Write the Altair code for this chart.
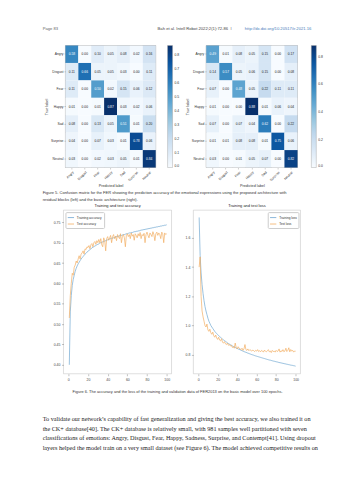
import altair as alt
import pandas as pd

# ---------------- data ----------------
labels = ["Angry", "Disgust", "Fear", "Happy", "Sad", "Surprise", "Neutral"]

cm_left = [
    [0.58, 0.00, 0.10, 0.05, 0.08, 0.02, 0.16],
    [0.11, 0.66, 0.05, 0.05, 0.03, 0.00, 0.11],
    [0.11, 0.00, 0.50, 0.02, 0.15, 0.06, 0.12],
    [0.01, 0.00, 0.01, 0.87, 0.03, 0.02, 0.06],
    [0.08, 0.00, 0.13, 0.05, 0.51, 0.01, 0.20],
    [0.04, 0.00, 0.07, 0.03, 0.01, 0.78, 0.06],
    [0.03, 0.00, 0.02, 0.03, 0.05, 0.01, 0.84],
]
cm_right = [
    [0.49, 0.01, 0.08, 0.05, 0.15, 0.00, 0.17],
    [0.14, 0.57, 0.05, 0.06, 0.15, 0.00, 0.08],
    [0.07, 0.00, 0.48, 0.05, 0.22, 0.11, 0.11],
    [0.01, 0.00, 0.00, 0.88, 0.01, 0.06, 0.04],
    [0.07, 0.00, 0.07, 0.04, 0.62, 0.00, 0.22],
    [0.01, 0.01, 0.08, 0.08, 0.01, 0.75, 0.06],
    [0.03, 0.00, 0.01, 0.05, 0.07, 0.00, 0.82],
]
cbar_left_ticks = [0.0, 0.1, 0.2, 0.3, 0.4, 0.5, 0.6, 0.7, 0.8]
cbar_right_ticks = [0.0, 0.2, 0.4, 0.6, 0.8]

epochs = list(range(1, 101))
train_acc = [
    0.400, 0.530, 0.570, 0.595, 0.610, 0.620, 0.630, 0.637, 0.643, 0.648,
    0.652, 0.656, 0.660, 0.663, 0.666, 0.669, 0.672, 0.674, 0.677, 0.679,
    0.681, 0.683, 0.685, 0.687, 0.689, 0.690, 0.692, 0.693, 0.695, 0.696,
    0.697, 0.699, 0.700, 0.701, 0.702, 0.703, 0.704, 0.705, 0.706, 0.707,
    0.708, 0.709, 0.710, 0.711, 0.711, 0.712, 0.713, 0.714, 0.715, 0.715,
    0.716, 0.717, 0.718, 0.718, 0.719, 0.720, 0.720, 0.721, 0.722, 0.722,
    0.723, 0.724, 0.724, 0.725, 0.725, 0.726, 0.727, 0.727, 0.728, 0.728,
    0.729, 0.729, 0.730, 0.731, 0.731, 0.732, 0.732, 0.733, 0.733, 0.734,
    0.734, 0.735, 0.735, 0.736, 0.736, 0.737, 0.737, 0.738, 0.738, 0.739,
    0.739, 0.740, 0.740, 0.741, 0.741, 0.742, 0.742, 0.743, 0.743, 0.744,
]
test_acc = [
    0.515, 0.570, 0.600, 0.625, 0.620, 0.640, 0.645, 0.655, 0.650, 0.660,
    0.668, 0.660, 0.672, 0.675, 0.680, 0.672, 0.685, 0.683, 0.690, 0.688,
    0.693, 0.685, 0.695, 0.698, 0.690, 0.700, 0.703, 0.696, 0.705, 0.700,
    0.708, 0.700, 0.710, 0.695, 0.690, 0.712, 0.705, 0.680, 0.710, 0.715,
    0.706, 0.712, 0.718, 0.700, 0.715, 0.720, 0.710, 0.716, 0.705, 0.720,
    0.714, 0.710, 0.722, 0.700, 0.716, 0.720, 0.712, 0.690, 0.718, 0.722,
    0.715, 0.720, 0.710, 0.724, 0.716, 0.720, 0.706, 0.722, 0.718, 0.712,
    0.722, 0.716, 0.725, 0.710, 0.720, 0.717, 0.723, 0.700, 0.720, 0.726,
    0.718, 0.712, 0.724, 0.720, 0.715, 0.727, 0.720, 0.705, 0.722, 0.726,
    0.718, 0.724, 0.720, 0.710, 0.726, 0.722, 0.700, 0.724, 0.720, 0.722,
]
train_loss = [
    1.740, 1.480, 1.360, 1.280, 1.220, 1.170, 1.130, 1.100, 1.075, 1.050,
    1.030, 1.015, 1.000, 0.990, 0.980, 0.970, 0.960, 0.952, 0.945, 0.938,
    0.931, 0.925, 0.919, 0.913, 0.907, 0.902, 0.897, 0.892, 0.887, 0.882,
    0.877, 0.873, 0.869, 0.865, 0.861, 0.857, 0.853, 0.850, 0.846, 0.843,
    0.840, 0.837, 0.834, 0.831, 0.828, 0.825, 0.822, 0.819, 0.817, 0.814,
    0.811, 0.809, 0.806, 0.804, 0.801, 0.799, 0.797, 0.794, 0.792, 0.790,
    0.788, 0.786, 0.784, 0.782, 0.780, 0.778, 0.776, 0.774, 0.772, 0.770,
    0.768, 0.766, 0.764, 0.763, 0.761, 0.759, 0.757, 0.756, 0.754, 0.752,
    0.751, 0.749, 0.747, 0.746, 0.744, 0.743, 0.741, 0.740, 0.738, 0.737,
    0.735, 0.734, 0.732, 0.731, 0.729, 0.728, 0.727, 0.725, 0.724, 0.722,
]
test_loss = [
    1.400, 1.470, 1.200, 1.100, 1.060, 1.030, 1.000, 0.990, 1.010, 0.970,
    0.960, 0.975, 0.950, 0.940, 0.955, 0.930, 0.920, 0.935, 0.915, 0.905,
    0.920, 0.900, 0.895, 0.910, 0.885, 0.880, 0.890, 0.875, 0.870, 0.880,
    0.865, 0.870, 0.860, 0.865, 0.850, 0.855, 0.845, 0.880, 0.850, 0.840,
    0.855, 0.845, 0.840, 0.835, 0.845, 0.830, 0.840, 0.870, 0.835, 0.830,
    0.840, 0.828, 0.835, 0.830, 0.825, 0.832, 0.828, 0.822, 0.830, 0.825,
    0.835, 0.822, 0.828, 0.820, 0.830, 0.826, 0.818, 0.832, 0.824, 0.820,
    0.828, 0.835, 0.820, 0.826, 0.815, 0.830, 0.822, 0.825, 0.818, 0.830,
    0.822, 0.826, 0.840, 0.818, 0.828, 0.822, 0.835, 0.820, 0.826, 0.845,
    0.822, 0.830, 0.848, 0.820, 0.836, 0.825, 0.830, 0.818, 0.826, 0.824,
]

header_left = "Page 83"
header_mid = "Bah et al. Intell Robot 2022;2(1):72-86"
header_sep = "I"
header_url = "http://dx.doi.org/10.20517/ir.2021.16"
fig5_caption = [
    "Figure 5. Confusion matrix for the FER showing the prediction accuracy of the emotional expressions using the proposed architecture with",
    "residual blocks (left) and the basic architecture (right).",
]
fig6_caption = "Figure 6. The accuracy and the loss of the training and validation data of FER2013 on the basic model over 100 epochs."
body_lines = [
    "To validate our network\u2019s capability of fast generalization and giving the best accuracy, we also trained it on",
    "the CK+ database[40]. The CK+ database is relatively small, with 981 samples well partitioned with seven",
    "classifications of emotions: Angry, Disgust, Fear, Happy, Sadness, Surprise, and Contempt[41]. Using dropout",
    "layers helped the model train on a very small dataset (see Figure 6). The model achieved competitive results on",
]

BLUES = ["#f7fbff", "#deebf7", "#c6dbef", "#9ecae1", "#6baed6",
         "#4292c6", "#2171b5", "#08519c", "#08306b"]
LINE_BLUE = "#6ea6d0"
LINE_ORANGE = "#f2ae62"
SANS = "Liberation Sans"
SERIF = "Liberation Serif"

one = pd.DataFrame({"k": [0]})


def spacer(w, h, texts=()):
    base = alt.Chart(one).mark_point(opacity=0).encode(x=alt.value(0), y=alt.value(0))
    return alt.layer(base, *texts).properties(width=w, height=h)


def heat(cm, ticks, w, h, cbar_gap):
    vmax = max(max(r) for r in cm)
    rows = []
    for i, t in enumerate(labels):
        for j, p in enumerate(labels):
            rows.append({"true": t, "pred": p, "v": cm[i][j],
                         "txt": f"{cm[i][j]:.2f}"})
    df = pd.DataFrame(rows)
    dom = [vmax * k / 8 for k in range(9)]
    base = alt.Chart(df).encode(
        x=alt.X("pred:N", sort=labels, title="Predicted label",
                axis=alt.Axis(labelAngle=-45, labelAlign="right", labelBaseline="top",
                              labelFontSize=3.4, titleFontSize=3.8, titleFontWeight="normal",
                              tickSize=1.5, tickWidth=0.4, domain=False, labelPadding=1,
                              titlePadding=2, labelFont=SANS, titleFont=SANS,
                              labelColor="#333", titleColor="#333")),
        y=alt.Y("true:N", sort=labels, title="True label",
                axis=alt.Axis(labelFontSize=3.4, titleFontSize=3.8, titleFontWeight="normal",
                              tickSize=1.5, tickWidth=0.4, domain=False, labelPadding=1,
                              titlePadding=2, labelFont=SANS, titleFont=SANS,
                              labelColor="#333", titleColor="#333")),
    )
    rect = base.mark_rect().encode(
        color=alt.Color("v:Q", scale=alt.Scale(domain=dom, range=BLUES),
                        legend=alt.Legend(orient="none", legendX=w + cbar_gap, legendY=0,
                                          direction="vertical", gradientLength=h,
                                          gradientThickness=5, title=None, values=ticks,
                                          format=".1f", labelFontSize=3.4, labelFont=SANS,
                                          labelColor="#333", labelOverlap=False,
                                          gradientStrokeColor="#999", gradientStrokeWidth=0.4,
                                          labelOffset=2)))
    text = base.mark_text(fontSize=3.3, font=SANS).encode(
        text="txt:N",
        color=alt.condition(alt.datum.v > vmax / 2, alt.value("white"), alt.value("#222")))
    return (rect + text).properties(
        width=w, height=h, view=alt.ViewBackground(stroke="#777", strokeWidth=0.5))


def linechart(title, names, series, ydom, yticks, yfmt, legend_orient, w, h):
    rows = []
    for n, s in zip(names, series):
        for e, v in zip(epochs, s):
            rows.append({"epoch": e, "value": v, "series": n})
    df = pd.DataFrame(rows)
    axis_common = dict(labelFontSize=3.5, labelFont=SANS, labelColor="#444", tickSize=2,
                       tickWidth=0.4, tickColor="#666", domain=False, grid=False,
                       labelPadding=1.5)
    return alt.Chart(df).mark_line(strokeWidth=0.7).encode(
        x=alt.X("epoch:Q", scale=alt.Scale(domain=[-4.95, 104.95], nice=False),
                axis=alt.Axis(values=[0, 20, 40, 60, 80, 100], title=None, **axis_common)),
        y=alt.Y("value:Q", scale=alt.Scale(domain=ydom, nice=False, zero=False),
                axis=alt.Axis(values=yticks, format=yfmt, title=None, **axis_common)),
        color=alt.Color("series:N", sort=names,
                        scale=alt.Scale(domain=names, range=[LINE_BLUE, LINE_ORANGE]),
                        legend=alt.Legend(orient=legend_orient, title=None, symbolType="stroke",
                                          symbolStrokeWidth=0.8, symbolSize=40,
                                          labelFontSize=3.2, labelFont=SANS, labelColor="#333",
                                          strokeColor="#ccc", fillColor="white", padding=1.5,
                                          cornerRadius=1, offset=2, rowPadding=0.5,
                                          labelOffset=2, labelLimit=0)),
    ).properties(
        width=w, height=h,
        title=alt.TitleParams(title, fontSize=4.0, font=SANS, fontWeight="normal",
                              color="#222", offset=2),
        view=alt.ViewBackground(stroke="#bbb", strokeWidth=0.5))


def txt(x, y, text, **kw):
    return alt.Chart(one).mark_text(**kw).encode(
        x=alt.value(x), y=alt.value(y), text=alt.value(text))


# ---------- row A: running header ----------
header = alt.layer(
    txt(40, 27.5, header_left, align="left", fontSize=4.2, font=SANS, color="#666"),
    txt(227, 27.5, header_mid, align="right", fontSize=4.2, font=SANS, color="#444"),
    txt(230, 27.5, header_sep, align="center", fontSize=4.2, font=SANS, color="#666"),
    txt(311, 27.5, header_url, align="right", fontSize=4.2, font=SANS, color="#4a7ebb"),
).properties(width=353, height=41)

# ---------- row B: confusion matrices (+ figure 5 caption) ----------
HB = 123
cap5 = txt(40, 149, fig5_caption, align="left", baseline="middle", fontSize=4.05,
           font=SANS, color="#333", lineHeight=7)
heat_row = alt.hconcat(
    spacer(63, HB, [cap5]),
    heat(cm_left, cbar_left_ticks, 91, HB, 12),
    spacer(51, HB),
    heat(cm_right, cbar_right_ticks, 92, HB, 14),
    spacer(56, HB),
    spacing=0, bounds="flush",
).resolve_scale(color="independent")

# ---------- row C: training curves (+ caption and body text) ----------
HC = 165
cap6 = txt(176, 183, fig6_caption, align="center", fontSize=4.0, font=SANS, color="#333")
body = txt(40, 210.5, body_lines, align="left", baseline="middle", fontSize=6.25,
           font=SERIF, color="#222", lineHeight=9.8)
line_row = alt.hconcat(
    spacer(61, HC, [cap6, body]),
    linechart("Training and test accuracy", ["Training accuracy", "Test accuracy"],
              [train_acc, test_acc], [0.378, 0.78], [0.40, 0.45, 0.50, 0.55, 0.60, 0.65, 0.70, 0.75],
              ".2f", "top-left", 109, HC),
    spacer(22, HC),
    linechart("Training and test loss", ["Training loss", "Test loss"],
              [train_loss, test_loss], [0.67, 1.79], [0.8, 1.0, 1.2, 1.4, 1.6],
              ".1f", "top-right", 108, HC),
    spacer(53, HC),
    spacing=0, bounds="flush",
).resolve_scale(color="independent")

chart = alt.vconcat(
    header, heat_row, line_row, spacing=0,
).resolve_scale(color="independent").properties(padding=0).configure_view(stroke=None)

chart.save("out.html", embed_options={"renderer": "svg", "actions": False})
